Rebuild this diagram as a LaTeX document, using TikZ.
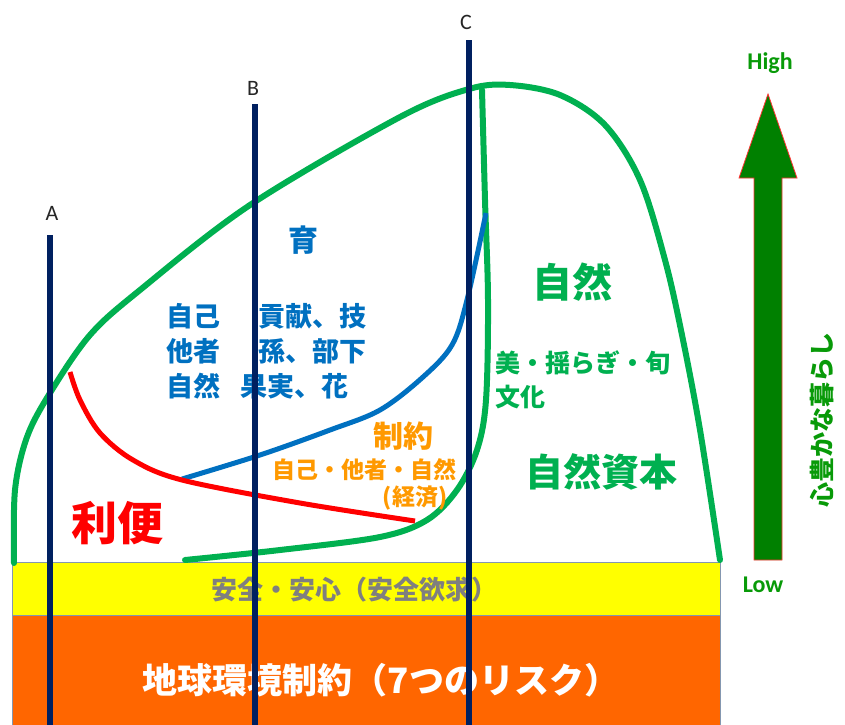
\documentclass[tikz,border=0pt]{standalone}
\usepackage{fontspec}
\setmainfont{Carlito}
\newfontfamily\jp{Noto Sans CJK JP}
\definecolor{gcurve}{HTML}{00B050}
\definecolor{bcurve}{HTML}{0070C0}
\definecolor{navy}{HTML}{002060}
\definecolor{otext}{HTML}{FF9900}
\definecolor{band}{HTML}{FF6600}
\definecolor{yband}{RGB}{255,255,0}
\definecolor{gtext}{HTML}{00B050}
\definecolor{agreen}{HTML}{008000}
\definecolor{hl}{HTML}{089A08}
\definecolor{edge}{HTML}{8497B0}
\definecolor{safegray}{HTML}{7F7F7F}
\begin{document}
\begin{tikzpicture}[x=1pt,y=-1pt,
  jt/.style={font=\jp\bfseries\fontsize{#1}{#1}\selectfont, inner sep=0pt},
  lt/.style={font=\fontsize{#1}{#1}\selectfont, inner sep=0pt},
  gline/.style={draw=gcurve, line width=6pt, line cap=round},
  bline/.style={draw=bcurve, line width=5pt},
  rline/.style={draw=red, line width=5pt},
  vline/.style={draw=navy, line width=5.5pt}]
\useasboundingbox (0,0) rectangle (845,724);
\begin{scope}
\clip (0,0) rectangle (845,724);
% bands
\path[fill=yband] (12,562) rectangle (720,615);
\path[fill=band] (12,615) rectangle (720,730);
\draw[edge, line width=1pt] (12,730) -- (12,562) -- (720,562) -- (720,730);
\draw[edge, line width=1pt] (12,615) -- (720,615);
\node[jt=26, text=safegray] (safe) at (354,590) {安全・安心（安全欲求）};
\node[jt=35, text=white] (earth) at (381,680) {地球環境制約（7つのリスク）};

% curves
\draw[gline] plot[smooth, tension=0.55] coordinates {(14,563) (15,490) (27,437) (50,393) (90,335) (140,290) (250,205) (400,117) (469,89) (510,85) (560,95) (605,125) (640,180) (665,260) (682,335) (700,430) (720,560)};
\draw[gline] plot[smooth, tension=0.55] coordinates {(482,90) (485,200) (488,300) (486,400) (477,450) (457,490) (427,520) (380,537) (280,550) (185,560)};
\draw[bline] plot[smooth, tension=0.55] coordinates {(182,479) (260,455) (330,430) (380,410) (423,377) (452,345) (467,300) (486,213)};
\draw[rline] plot[smooth, tension=0.55] coordinates {(70,372) (80,400) (100,433) (133,460) (182,480) (300,503) (415,521)};

% texts
\node[jt=30, text=bcurve] (iku) at (303,240) {育};
\node[jt=27, text=bcurve, anchor=west] (r1a) at (166,316) {自己};
\node[jt=27, text=bcurve, anchor=west] (r2a) at (166,351) {他者};
\node[jt=27, text=bcurve, anchor=west] (r3a) at (166,386) {自然};
\node[jt=27, text=bcurve, anchor=west] (r1b) at (258,316) {貢献、技};
\node[jt=27, text=bcurve, anchor=west] (r2b) at (258,351) {孫、部下};
\node[jt=27, text=bcurve, anchor=west] (r3b) at (240,386) {果実、花};
\node[jt=30, text=otext] (sei) at (403,436) {制約};
\node[jt=23, text=otext] (sei2) at (364,470) {自己・他者・自然};
\node[jt=23, text=otext] (sei3) at (415,498) {(経済)};
\node[jt=40, text=gtext] (shizen) at (572,282) {自然};
\node[jt=25, text=gtext, anchor=west] (bi) at (495,363) {美・揺らぎ・旬};
\node[jt=25, text=gtext, anchor=west] (bunka) at (495,397) {文化};
\node[jt=38, text=gtext] (shihon) at (601,472) {自然資本};
\node[jt=46, text=red] (riben) at (117,523) {利便};

% vertical lines
\node[lt=22, text=black!85] (A) at (52,213) {A};
\node[lt=22, text=black!85] (B) at (253,88) {B};
\node[lt=22, text=black!85] (C) at (466,22) {C};
\coordinate (At) at (50,235);
\coordinate (Ab) at (50,730);
\coordinate (Bt) at (255,104);
\coordinate (Bb) at (255,730);
\coordinate (Ct) at (469,40);
\coordinate (Cb) at (469,730);
\draw[vline] (At) -- (Ab);
\draw[vline] (Bt) -- (Bb);
\draw[vline] (Ct) -- (Cb);
\end{scope}

% arrow
\draw[fill=agreen, draw=red!80, line width=0.8pt, line join=miter]
  (754,560) -- (754,178) -- (739,178) -- (768,94) -- (797,178) -- (782,178) -- (782,560) -- cycle;
\node[lt=24, font=\bfseries\fontsize{24}{24}\selectfont, text=hl] (high) at (770,63) {High};
\node[lt=24, font=\bfseries\fontsize{24}{24}\selectfont, text=hl] (low) at (763,585) {Low};
\node[jt=25, text=hl, rotate=90] (kokoro) at (822,420) {心豊かな暮らし};
\end{tikzpicture}
\end{document}
